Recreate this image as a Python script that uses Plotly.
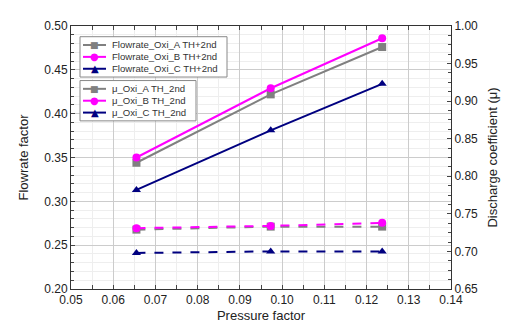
import plotly.graph_objects as go

pressure = [0.0655, 0.0973, 0.1237]
flow_A = [0.344, 0.422, 0.476]
flow_B = [0.350, 0.429, 0.486]
flow_C = [0.313, 0.381, 0.434]
mu_A = [0.729, 0.733, 0.733]
mu_B = [0.731, 0.734, 0.738]
mu_C = [0.698, 0.700, 0.700]

names_flow = ["Flowrate_Oxi_A TH+2nd", "Flowrate_Oxi_B TH+2nd", "Flowrate_Oxi_C TH+2nd"]
names_mu = ["\u03bc_Oxi_A TH_2nd", "\u03bc_Oxi_B TH_2nd", "\u03bc_Oxi_C TH_2nd"]

colors = ["#808080", "#ff00ff", "#000080"]
symbols = ["square", "circle", "triangle-up"]
glyphs = {"square": "\u25a0", "circle": "\u25cf", "triangle-up": "\u25b2"}

fig = go.Figure()
for ys, nm, c, s in zip([flow_A, flow_B, flow_C], names_flow, colors, symbols):
    fig.add_trace(go.Scatter(x=pressure, y=ys, name=nm, mode="lines+markers",
                             line=dict(color=c, width=2), marker=dict(symbol=s, size=8, color=c),
                             showlegend=False))
for ys, nm, c, s in zip([mu_A, mu_B, mu_C], names_mu, colors, symbols):
    fig.add_trace(go.Scatter(x=pressure, y=ys, name=nm, mode="lines+markers", yaxis="y2",
                             line=dict(color=c, width=2, dash="dash"), marker=dict(symbol=s, size=8, color=c),
                             showlegend=False))

# compact legend boxes (plot area: 380 x 270 px)
PW, PH = 380.0, 270.0
shapes, annos = [], []


def legend_box(names, x0, y_top, width, row_h=12.2, pad=8.5):
    height = pad * 2 + row_h * (len(names) - 1)
    shapes.append(dict(type="rect", xref="paper", yref="paper", layer="above",
                       x0=x0 / PW, x1=(x0 + width) / PW,
                       y0=1 - (y_top + height) / PH, y1=1 - y_top / PH,
                       line=dict(color="#888888", width=1), fillcolor="white"))
    for i, (nm, c, s) in enumerate(zip(names, colors, symbols)):
        yy = 1 - (y_top + pad + i * row_h) / PH
        shapes.append(dict(type="line", xref="paper", yref="paper", layer="above",
                           x0=(x0 + 3) / PW, x1=(x0 + 26) / PW, y0=yy, y1=yy,
                           line=dict(color=c, width=2)))
        annos.append(dict(xref="paper", yref="paper", x=(x0 + 14.5) / PW, y=yy,
                          text=glyphs[s], showarrow=False, xanchor="center", yanchor="middle",
                          font=dict(size=9 if s == "square" else 10, color=c,
                                    family="DejaVu Sans")))
        annos.append(dict(xref="paper", yref="paper", x=(x0 + 30) / PW, y=yy,
                          text=nm, showarrow=False, xanchor="left", yanchor="middle",
                          font=dict(size=9.6, color="#333")))


legend_box(names_flow, 9, 11, 147)
legend_box(names_mu, 9, 56, 116)

font = dict(family="Liberation Sans, Arial, sans-serif", size=12, color="#222")
fig.update_layout(
    width=511, height=324,
    margin=dict(l=63, r=68, t=11, b=43),
    paper_bgcolor="white", plot_bgcolor="white",
    font=font, shapes=shapes, annotations=annos,
    xaxis=dict(range=[0.05, 0.14], dtick=0.01, tickformat=".2f", ticks="inside", ticklen=4,
               showline=True, linecolor="#333", linewidth=1, mirror="allticks",
               showgrid=True, gridcolor="#cccccc", gridwidth=1, zeroline=False,
               minor=dict(dtick=0.005, ticks="inside", ticklen=3, showgrid=True, gridcolor="#eeeeee"),
               title=dict(text="Pressure factor", standoff=4, font=dict(size=13))),
    yaxis=dict(range=[0.20, 0.50], dtick=0.05, tickformat=".2f", ticks="inside", ticklen=4,
               showline=True, linecolor="#333", linewidth=1,
               showgrid=True, gridcolor="#cccccc", gridwidth=1, zeroline=False,
               minor=dict(dtick=0.01, ticks="inside", ticklen=3, showgrid=True, gridcolor="#eeeeee"),
               title=dict(text="Flowrate factor", standoff=12, font=dict(size=13))),
    yaxis2=dict(range=[0.65, 1.00], dtick=0.05, tickformat=".2f", ticks="inside", ticklen=4,
                overlaying="y", side="right", showline=True, linecolor="#333", linewidth=1,
                showgrid=False, zeroline=False,
                minor=dict(dtick=0.0125, ticks="inside", ticklen=3, showgrid=False),
                title=dict(text="Discharge coefficient (\u03bc)", standoff=10, font=dict(size=13))),
)

fig.write_html("out.html")
